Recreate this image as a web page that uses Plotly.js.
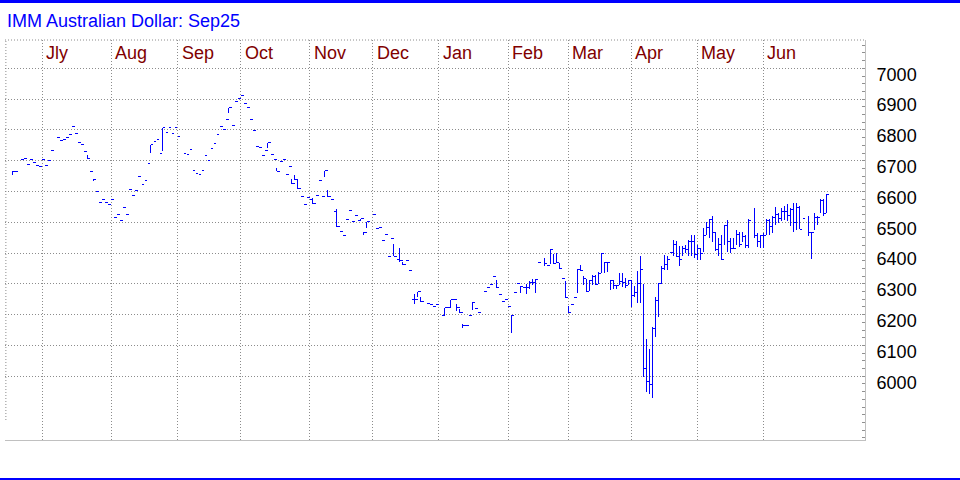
<!DOCTYPE html>
<html><head><meta charset="utf-8">
<script src="https://cdn.plot.ly/plotly-3.0.1.min.js"></script>
<style>
html,body{margin:0;padding:0;background:#fff;}
#chart{width:960px;height:480px;}
.scatterlayer path{shape-rendering:crispEdges;}
</style>
</head><body><div id="chart"></div>
<script>
const chartTitle = 'IMM Australian Dollar: Sep25';
const monthLabels = ['Jly','Aug','Sep','Oct','Nov','Dec','Jan','Feb','Mar','Apr','May','Jun'];
const monthStarts = ['2024-07-01','2024-08-01','2024-09-02','2024-10-01','2024-11-01','2024-12-02',
                     '2025-01-01','2025-02-03','2025-03-03','2025-04-01','2025-05-01','2025-06-02'];
const yTicks = [6000,6100,6200,6300,6400,6500,6600,6700,6800,6900,7000];

const dates = [
 '2024-06-17','2024-06-18','2024-06-20','2024-06-21','2024-06-24','2024-06-25','2024-06-26','2024-06-27','2024-06-28',
 '2024-07-01','2024-07-02','2024-07-03','2024-07-04','2024-07-08','2024-07-09','2024-07-10','2024-07-11','2024-07-12','2024-07-15','2024-07-16','2024-07-17','2024-07-18','2024-07-19','2024-07-22','2024-07-23','2024-07-24','2024-07-25','2024-07-26','2024-07-29','2024-07-30','2024-07-31',
 '2024-08-01','2024-08-02','2024-08-05','2024-08-06','2024-08-07','2024-08-08','2024-08-09','2024-08-12','2024-08-13','2024-08-14','2024-08-15','2024-08-16','2024-08-19','2024-08-20','2024-08-21','2024-08-22','2024-08-23','2024-08-26','2024-08-27','2024-08-28','2024-08-29','2024-08-30',
 '2024-09-02','2024-09-04','2024-09-05','2024-09-06','2024-09-09','2024-09-10','2024-09-11','2024-09-12','2024-09-13','2024-09-16','2024-09-17','2024-09-18','2024-09-19','2024-09-20','2024-09-23','2024-09-24','2024-09-25','2024-09-26','2024-09-27','2024-09-30',
 '2024-10-01','2024-10-02','2024-10-03','2024-10-04','2024-10-07','2024-10-08','2024-10-09','2024-10-10','2024-10-11','2024-10-14','2024-10-15','2024-10-16','2024-10-17','2024-10-18','2024-10-21','2024-10-22','2024-10-23','2024-10-24','2024-10-25','2024-10-28','2024-10-29','2024-10-30','2024-10-31',
 '2024-11-01','2024-11-04','2024-11-05','2024-11-06','2024-11-07','2024-11-08','2024-11-11','2024-11-12','2024-11-13','2024-11-14','2024-11-15','2024-11-18','2024-11-19','2024-11-20','2024-11-21','2024-11-22','2024-11-25','2024-11-26','2024-11-27','2024-11-28',
 '2024-12-02','2024-12-03','2024-12-04','2024-12-05','2024-12-06','2024-12-09','2024-12-10','2024-12-11','2024-12-12','2024-12-13','2024-12-16','2024-12-17','2024-12-18','2024-12-19','2024-12-20','2024-12-23','2024-12-24','2024-12-26','2024-12-27','2024-12-30','2024-12-31',
 '2025-01-02','2025-01-03','2025-01-06','2025-01-07','2025-01-08','2025-01-09','2025-01-10','2025-01-13','2025-01-14','2025-01-15','2025-01-16','2025-01-17','2025-01-20','2025-01-22','2025-01-23','2025-01-24','2025-01-27','2025-01-28','2025-01-29','2025-01-30','2025-01-31',
 '2025-02-03','2025-02-04','2025-02-05','2025-02-06','2025-02-07','2025-02-10','2025-02-11','2025-02-12','2025-02-13','2025-02-14','2025-02-17','2025-02-19','2025-02-20','2025-02-21','2025-02-24','2025-02-25','2025-02-26','2025-02-27','2025-02-28',
 '2025-03-03','2025-03-04','2025-03-05','2025-03-06','2025-03-07','2025-03-10','2025-03-11','2025-03-12','2025-03-13','2025-03-14','2025-03-17','2025-03-18','2025-03-19','2025-03-20','2025-03-21','2025-03-24','2025-03-25','2025-03-26','2025-03-27','2025-03-28','2025-03-31',
 '2025-04-01','2025-04-02','2025-04-03','2025-04-04','2025-04-07','2025-04-08','2025-04-09','2025-04-10','2025-04-11','2025-04-14','2025-04-15','2025-04-16','2025-04-17','2025-04-18','2025-04-21','2025-04-22','2025-04-23','2025-04-24','2025-04-25','2025-04-28','2025-04-29','2025-04-30',
 '2025-05-01','2025-05-02','2025-05-05','2025-05-06','2025-05-07','2025-05-08','2025-05-09','2025-05-12','2025-05-13','2025-05-14','2025-05-15','2025-05-16','2025-05-19','2025-05-20','2025-05-21','2025-05-22','2025-05-23','2025-05-26','2025-05-28','2025-05-29','2025-05-30',
 '2025-06-02','2025-06-03','2025-06-04','2025-06-05','2025-06-06','2025-06-09','2025-06-10','2025-06-11','2025-06-12','2025-06-13','2025-06-16','2025-06-17','2025-06-18','2025-06-19','2025-06-23','2025-06-24','2025-06-25','2025-06-26','2025-06-27','2025-06-30','2025-07-01'
];

const high = [
 6666,6666,6703,6706,6687,6703,6694,6684,6681,
 6703,6684,6700,6732,6777,6765,6768,6774,6784,6810,6787,6758,6752,6729,6720,6665,6639,6600,6565,6574,6565,6558,
 6574,6516,6526,6506,6548,6526,6606,6587,6603,6648,6623,6635,6690,6752,6761,6768,6723,6807,6793,6807,6788,6807,
 6778,6723,6720,6736,6668,6658,6655,6668,6717,6700,6739,6755,6785,6810,6801,6833,6872,6814,6891,6901,
 6911,6885,6872,6833,6797,6746,6742,6717,6733,6759,6720,6703,6677,6697,6703,6656,6681,6639,6655,6636,6583,6557,6580,
 6573,6580,6586,6635,6583,6668,6606,6573,6534,6544,6469,6458,6508,6539,6503,6521,6505,6512,6469,6502,
 6525,6479,6482,6440,6460,6389,6448,6431,6378,6418,6372,6375,6343,6250,6266,6274,6258,6237,6232,6226,6232,
 6197,6223,6223,6248,6248,6236,6217,6171,6164,6197,6240,6219,6208,6275,6287,6298,6323,6311,6265,6242,6248,
 6226,6197,6271,6300,6292,6287,6300,6309,6317,6316,6370,6384,6361,6413,6398,6400,6368,6319,6309,
 6228,6232,6255,6348,6362,6325,6316,6314,6330,6330,6338,6400,6372,6371,6311,6311,6298,6335,6335,6320,6314,
 6311,6292,6342,6389,6300,6121,6089,6159,6259,6302,6357,6395,6389,6403,6443,6440,6422,6422,6427,6443,6458,6458,
 6427,6416,6480,6501,6510,6522,6469,6448,6458,6490,6506,6448,6448,6474,6469,6469,6458,6510,6547,6464,6458,
 6464,6510,6511,6520,6550,6531,6547,6553,6558,6547,6564,6564,6553,6511,6522,6470,6531,6520,6575,6575,6592
];

const low = [
 6655,6666,6703,6706,6687,6703,6694,6684,6681,
 6703,6684,6700,6732,6777,6765,6768,6774,6784,6810,6787,6758,6752,6729,6706,6665,6634,6600,6565,6574,6565,6558,
 6574,6516,6526,6506,6548,6526,6606,6587,6603,6648,6623,6635,6690,6726,6761,6768,6723,6732,6793,6807,6788,6807,
 6778,6723,6720,6736,6668,6658,6655,6668,6717,6700,6739,6755,6785,6810,6801,6833,6855,6814,6891,6901,
 6911,6885,6872,6833,6797,6746,6742,6717,6733,6742,6720,6703,6666,6697,6703,6656,6681,6625,6638,6609,6583,6557,6580,
 6573,6560,6586,6635,6583,6648,6583,6573,6534,6486,6469,6458,6508,6539,6503,6521,6505,6503,6460,6480,
 6525,6479,6482,6440,6460,6389,6448,6389,6378,6372,6362,6375,6343,6250,6234,6258,6242,6237,6232,6226,6232,
 6197,6200,6223,6223,6248,6212,6206,6157,6164,6197,6214,6219,6208,6275,6287,6298,6323,6289,6265,6242,6248,
 6226,6139,6271,6300,6269,6287,6266,6285,6296,6270,6370,6358,6361,6366,6365,6368,6348,6319,6255,
 6206,6232,6255,6271,6344,6298,6276,6276,6298,6298,6301,6335,6335,6338,6279,6282,6284,6295,6291,6287,6297,
 6226,6259,6239,6239,5996,5950,5944,5930,6129,6194,6300,6346,6346,6403,6389,6389,6359,6389,6400,6389,6389,6384,
 6376,6379,6405,6459,6448,6437,6407,6389,6377,6427,6405,6400,6416,6427,6421,6437,6418,6418,6448,6421,6416,
 6416,6458,6459,6465,6492,6498,6503,6509,6503,6487,6470,6476,6478,6511,6454,6382,6476,6492,6531,6522,6531
];

const close = [
 6666,6666,6703,6706,6687,6703,6694,6684,6681,
 6703,6684,6700,6732,6777,6765,6768,6774,6784,6810,6787,6758,6752,6729,6706,6665,6639,6600,6565,6574,6565,6558,
 6574,6516,6526,6506,6548,6526,6606,6587,6603,6648,6623,6635,6690,6752,6761,6768,6723,6807,6793,6807,6788,6807,
 6778,6723,6720,6736,6668,6658,6655,6668,6717,6700,6739,6755,6785,6810,6801,6833,6872,6814,6891,6901,
 6911,6885,6872,6833,6797,6746,6742,6717,6733,6759,6720,6703,6666,6697,6703,6656,6681,6625,6638,6609,6583,6557,6580,
 6573,6560,6586,6635,6583,6668,6583,6573,6534,6486,6469,6458,6508,6539,6503,6521,6505,6512,6466,6502,
 6525,6479,6482,6440,6460,6389,6448,6389,6378,6375,6362,6375,6343,6250,6250,6274,6242,6237,6232,6226,6232,
 6197,6223,6223,6248,6248,6223,6206,6164,6164,6197,6240,6219,6208,6275,6287,6298,6323,6289,6265,6242,6248,
 6226,6197,6271,6300,6292,6287,6287,6303,6303,6314,6370,6366,6361,6413,6365,6368,6350,6319,6255,
 6206,6232,6255,6346,6344,6316,6276,6312,6325,6298,6335,6398,6371,6371,6311,6295,6295,6309,6305,6296,6311,
 6261,6273,6302,6346,6026,5984,5974,6156,6245,6300,6351,6362,6380,6403,6427,6389,6378,6416,6413,6438,6437,6397,
 6416,6399,6456,6482,6510,6467,6411,6427,6379,6488,6437,6416,6416,6461,6429,6453,6424,6507,6458,6437,6456,
 6456,6506,6485,6514,6525,6511,6536,6536,6522,6542,6500,6547,6478,6511,6467,6467,6514,6514,6572,6528,6591
];

// Build high-low bars with a close tick to the right
const vx = [], vy = [], tx = [], ty = [];
for (let i = 0; i < dates.length; i++) {
  vx.push(dates[i], dates[i], null); vy.push(low[i], high[i], null);
  tx.push(dates[i], dates[i] + ' 23:00', null); ty.push(close[i], close[i], null);
}

const FONT = '"Liberation Sans", Arial, sans-serif';
const GRID = '#8c8c8c';
const BLUE = '#0000ff';

const traces = [
  {type:'scatter', mode:'lines', x:vx, y:vy, line:{color:BLUE, width:1}, hoverinfo:'skip', showlegend:false, connectgaps:false},
  {type:'scatter', mode:'lines', x:tx, y:ty, line:{color:BLUE, width:1}, hoverinfo:'skip', showlegend:false, connectgaps:false}
];

const annotations = monthLabels.map((m, i) => ({
  text: m, xref:'x', x: monthStarts[i], yref:'paper', y: 0.9675,
  xanchor:'left', yanchor:'middle', xshift: 2, showarrow:false,
  font:{family:FONT, size:18, color:'#800000'}
}));

const shapes = [
  {type:'rect', xref:'paper', yref:'paper', x0:-0.01, x1:1.12, y0:1.0925, y1:1.11, fillcolor:BLUE, line:{width:0}},
  {type:'rect', xref:'paper', yref:'paper', x0:-0.01, x1:1.12, y0:-0.11, y1:-0.095, fillcolor:BLUE, line:{width:0}},
  {type:'line', xref:'paper', yref:'paper', x0:0, x1:1, y0:1, y1:1, line:{color:GRID, width:1, dash:'1px,2px'}},
  {type:'line', xref:'paper', yref:'paper', x0:0.001, x1:0.001, y0:0.05, y1:1, line:{color:GRID, width:1, dash:'1px,2px'}}
];

const layout = {
  width:960, height:480,
  margin:{l:5, r:95, t:40, b:40, pad:0},
  paper_bgcolor:'#ffffff', plot_bgcolor:'#ffffff',
  showlegend:false,
  title:{text:chartTitle, font:{family:FONT, size:18, color:BLUE},
         xref:'container', yref:'container', x:7/960, xanchor:'left', y:1-20.5/480, yanchor:'middle'},
  xaxis:{
    type:'date', range:['2024-06-12 13:40','2025-07-17 19:12'],
    rangebreaks:[{bounds:['sat','mon']}],
    tickmode:'array', tickvals:monthStarts, showticklabels:false, ticks:'',
    showgrid:true, gridcolor:GRID, gridwidth:1, griddash:'1px,2px',
    showline:true, linecolor:'#c0c0c0', linewidth:1, zeroline:false, fixedrange:true
  },
  yaxis:{
    side:'right', range:[5793, 7092],
    tickmode:'array', tickvals:yTicks, ticktext:yTicks.map(String),
    showgrid:true, gridcolor:GRID, gridwidth:1, griddash:'1px,2px',
    ticks:'inside', ticklen:3, tickcolor:'#909090', tickwidth:1,
    minor:{tickmode:'linear', tick0:0, dtick:25, ticks:'inside', ticklen:3, tickcolor:'#909090', showgrid:false},
    showline:true, linecolor:'#c0c0c0', linewidth:1, zeroline:false, fixedrange:true,
    tickfont:{family:FONT, size:18, color:'#000000'},
    ticklabelstandoff:7, ticklabelshift:6
  },
  annotations: annotations,
  shapes: shapes
};

Plotly.newPlot('chart', traces, layout, {displayModeBar:false, staticPlot:true});
</script>
</body></html>
